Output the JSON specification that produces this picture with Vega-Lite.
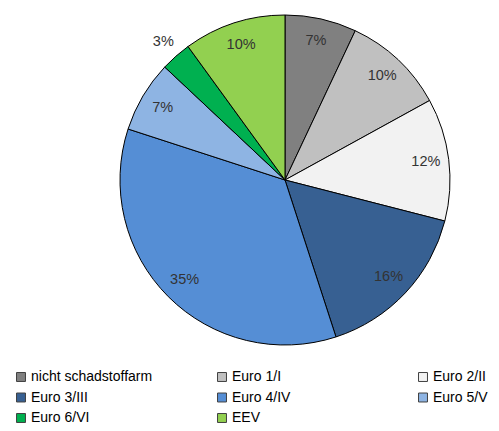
{
  "$schema": "https://vega.github.io/schema/vega-lite/v6.json",
  "autosize": "none",
  "width": 330,
  "height": 330,
  "padding": {"left": 120, "top": 15, "right": 49, "bottom": 86},
  "background": "white",
  "data": {"values": [
    {"category": "nicht schadstoffarm", "value": 7, "order": 1, "inner": "7%", "outer": ""},
    {"category": "Euro 1/I", "value": 10, "order": 2, "inner": "10%", "outer": ""},
    {"category": "Euro 2/II", "value": 12, "order": 3, "inner": "12%", "outer": ""},
    {"category": "Euro 3/III", "value": 16, "order": 4, "inner": "16%", "outer": ""},
    {"category": "Euro 4/IV", "value": 35, "order": 5, "inner": "35%", "outer": ""},
    {"category": "Euro 5/V", "value": 7, "order": 6, "inner": "7%", "outer": ""},
    {"category": "Euro 6/VI", "value": 3, "order": 7, "inner": "", "outer": "3%"},
    {"category": "EEV", "value": 10, "order": 8, "inner": "10%", "outer": ""}
  ]},
  "encoding": {
    "theta": {"field": "value", "type": "quantitative", "stack": true},
    "order": {"field": "order", "type": "quantitative"}
  },
  "layer": [
    {
      "mark": {"type": "arc", "stroke": "#000000", "strokeWidth": 1},
      "encoding": {
        "color": {
          "field": "category", "type": "nominal",
          "sort": null,
          "scale": {
            "domain": ["nicht schadstoffarm", "Euro 1/I", "Euro 2/II", "Euro 3/III", "Euro 4/IV", "Euro 5/V", "Euro 6/VI", "EEV"],
            "range": ["#808080", "#c0c0c0", "#f2f2f2", "#376092", "#558ed5", "#8eb4e3", "#00b050", "#92d050"]
          },
          "legend": {
            "title": null,
            "orient": "none",
            "direction": "horizontal",
            "legendX": -106,
            "legendY": 355,
            "columns": 3,
            "gridAlign": "all",
            "columnPadding": 62,
            "rowPadding": 6.5,
            "symbolType": "square",
            "symbolSize": 80,
            "symbolStrokeColor": "#404040",
            "symbolStrokeWidth": 1,
            "symbolOpacity": 1,
            "labelFontSize": 14,
            "labelFont": "Liberation Sans",
            "labelColor": "#000000",
            "labelOffset": 3,
            "labelLimit": 300
          }
        }
      }
    },
    {
      "mark": {"type": "text", "radius": 142, "fontSize": 14.5, "font": "Liberation Sans", "color": "#333333"},
      "encoding": {"text": {"field": "inner", "type": "nominal"}, "detail": {"field": "category"}}
    },
    {
      "mark": {"type": "text", "radius": 184, "fontSize": 14.5, "font": "Liberation Sans", "color": "#333333"},
      "encoding": {"text": {"field": "outer", "type": "nominal"}, "detail": {"field": "category"}}
    }
  ]
}
